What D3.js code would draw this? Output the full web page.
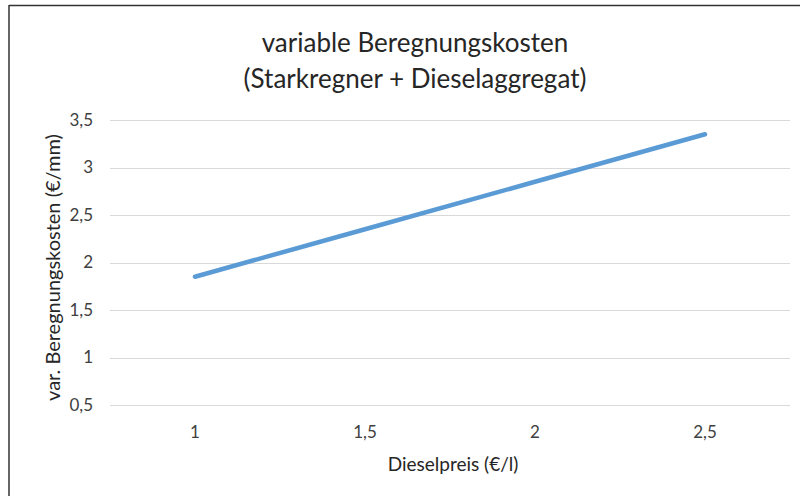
<!DOCTYPE html>
<html>
<head>
<meta charset="utf-8">
<script src="https://cdn.jsdelivr.net/npm/d3@7/dist/d3.min.js"></script>
<style>
  html, body { margin: 0; padding: 0; background: #fff; }
  svg { display: block; font-family: Lato, "Open Sans", sans-serif; }
</style>
</head>
<body>
<svg id="chart" width="800" height="496"></svg>
<script>
const categories = ["1", "1,5", "2", "2,5"];
const values = [1.85, 2.35, 2.85, 3.35];
const yTicks = [0.5, 1, 1.5, 2, 2.5, 3, 3.5];
const titleLines = ["variable Beregnungskosten", "(Starkregner + Dieselaggregat)"];
const xTitle = "Dieselpreis (€/l)";
const yTitle = "var. Beregnungskosten (€/mm)";

const svg = d3.select("#chart");
const W = 800, H = 496;
const m = { left: 110, right: 10, top: 120, bottom: 91 };
const plotW = W - m.left - m.right, plotH = H - m.top - m.bottom;

svg.append("rect").attr("width", W).attr("height", H).attr("fill", "#fff");
// frame (top and left edges visible)
svg.append("line").attr("x1", 9).attr("x2", W).attr("y1", 5.5).attr("y2", 5.5)
  .attr("stroke", "#333").attr("stroke-width", 1.5);
svg.append("line").attr("x1", 9).attr("x2", 9).attr("y1", 5).attr("y2", H)
  .attr("stroke", "#333").attr("stroke-width", 1.5);

const x = d3.scaleBand().domain(categories).range([m.left, m.left + plotW]);
const y = d3.scaleLinear().domain([0.5, 3.5]).range([m.top + plotH, m.top]);

const fmt = d => String(d).replace(".", ",");

// gridlines
svg.append("g").selectAll("line").data(yTicks).join("line")
  .attr("x1", m.left).attr("x2", m.left + plotW)
  .attr("y1", d => Math.round(y(d)) + 0.5).attr("y2", d => Math.round(y(d)) + 0.5)
  .attr("stroke", "#d9d9d9").attr("stroke-width", 1);

// y axis labels
const yAxis = d3.axisLeft(y).tickValues(yTicks).tickFormat(fmt).tickSize(0).tickPadding(0);
const gy = svg.append("g").attr("transform", `translate(${m.left - 17},0)`).call(yAxis);
gy.select(".domain").remove();
gy.selectAll("text").attr("font-size", 17).attr("fill", "#404040")
  .attr("font-family", "Lato, 'Open Sans', sans-serif");

// x axis labels
const xAxis = d3.axisBottom(x).tickSize(0).tickPadding(0);
const gx = svg.append("g").attr("transform", `translate(0,${m.top + plotH + 21})`).call(xAxis);
gx.select(".domain").remove();
gx.selectAll("text").attr("font-size", 17).attr("fill", "#404040")
  .attr("font-family", "Lato, 'Open Sans', sans-serif");

// line
const line = d3.line().x((d, i) => x(categories[i]) + x.bandwidth() / 2).y(d => y(d));
svg.append("path").datum(values).attr("d", line)
  .attr("fill", "none").attr("stroke", "#5B9BD5").attr("stroke-width", 4.5)
  .attr("stroke-linecap", "round").attr("stroke-linejoin", "round");

// titles
svg.append("g").selectAll("text").data(titleLines).join("text")
  .attr("x", 415).attr("y", (d, i) => 52 + i * 36)
  .attr("text-anchor", "middle").attr("font-size", 26).attr("fill", "#262626")
  .text(d => d);

svg.append("text").attr("x", m.left + plotW / 2 + 3).attr("y", 471)
  .attr("text-anchor", "middle").attr("font-size", 19).attr("fill", "#262626")
  .text(xTitle);

svg.append("text")
  .attr("transform", `translate(60,${m.top + plotH / 2 + 5}) rotate(-90)`)
  .attr("text-anchor", "middle").attr("font-size", 20).attr("fill", "#262626")
  .text(yTitle);
</script>
</body>
</html>
